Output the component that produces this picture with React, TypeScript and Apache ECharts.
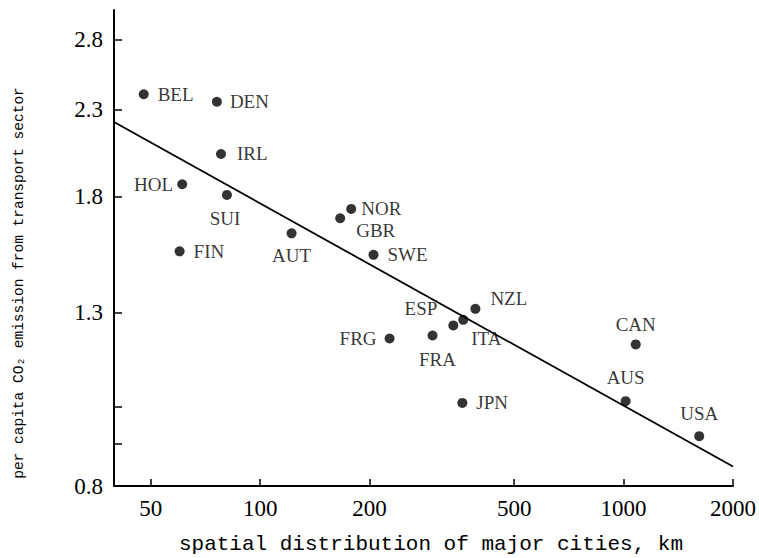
import React, { useEffect, useRef } from "react";
import * as echarts from "echarts";

// ---- data ----
const countries = ["BEL", "DEN", "IRL", "HOL", "SUI", "FIN", "AUT", "NOR", "GBR", "SWE", "NZL", "ITA", "ESP", "FRA", "FRG", "JPN", "CAN", "AUS", "USA"];
const distanceKm = [47.8, 76, 78, 61, 81, 60, 122, 178, 166, 205, 391, 362, 340, 298, 227, 360, 1080, 1013, 1615];
const emission = [2.4, 2.35, 2.03, 1.865, 1.81, 1.545, 1.625, 1.74, 1.695, 1.53, 1.315, 1.275, 1.255, 1.22, 1.21, 1.01, 1.19, 1.015, 0.92];

// regression line end points
const trendDistance = [39.6, 2000];
const trendEmission = [2.22, 0.845];

// axis ticks
const xTickValues = [50, 100, 200, 500, 1000, 2000];
const yLabelValues = [0.8, 1.3, 1.8, 2.3, 2.8];
const yMinorTickValues = [0.9, 1.0];
const xRange = [39.6, 2000];
const yRange = [0.8, 3.04];

const xTitle = "spatial distribution of major cities, km";
const yTitle = "per capita CO\u2082 emission from transport sector";

// label placement (style only)
const labelPlace: Record<string, { position: string; distance: number; offset?: number[] }> = {
  BEL: { position: "right", distance: 9 },
  DEN: { position: "right", distance: 8 },
  IRL: { position: "right", distance: 11 },
  HOL: { position: "left", distance: 4 },
  SUI: { position: "bottom", distance: 9, offset: [-2, 0] },
  FIN: { position: "right", distance: 9 },
  AUT: { position: "bottom", distance: 8 },
  NOR: { position: "right", distance: 5 },
  GBR: { position: "right", distance: 11, offset: [0, 12] },
  SWE: { position: "right", distance: 9 },
  NZL: { position: "right", distance: 10, offset: [0, -10] },
  ITA: { position: "right", distance: 3, offset: [0, 19] },
  ESP: { position: "left", distance: 11, offset: [0, -17] },
  FRA: { position: "bottom", distance: 9, offset: [5, 0] },
  FRG: { position: "left", distance: 8 },
  JPN: { position: "right", distance: 9 },
  CAN: { position: "top", distance: 5 },
  AUS: { position: "top", distance: 9 },
  USA: { position: "top", distance: 8 },
};

const lg = (v: number) => Math.log10(v);
const SERIF = "'Liberation Serif', 'DejaVu Serif', serif";
const MONO = "'Liberation Mono', 'DejaVu Sans Mono', monospace";

export default function App() {
  const ref = useRef<HTMLDivElement>(null);
  useEffect(() => {
    if (!ref.current) return;
    const chart = echarts.init(ref.current, undefined, { renderer: "svg" });
    const scatterData = countries.map((c, i) => {
      const p = labelPlace[c];
      return {
        name: c,
        value: [lg(distanceKm[i]), lg(emission[i])],
        label: { show: true, formatter: c, position: p.position, distance: p.distance, offset: p.offset || [0, 0] },
      };
    });
    chart.setOption({
      animation: false,
      backgroundColor: "#ffffff",
      grid: { left: 114, right: 24, top: 10, bottom: 72 },
      xAxis: {
        type: "value",
        min: lg(xRange[0]),
        max: lg(xRange[1]),
        splitLine: { show: false },
        axisLine: { show: true, onZero: false, lineStyle: { color: "#000", width: 2 } },
        axisTick: { show: true, inside: true, length: 7, customValues: xTickValues.map(lg), lineStyle: { color: "#000", width: 1.5 } },
        axisLabel: {
          customValues: xTickValues.map(lg),
          formatter: (v: number) => String(Math.round(Math.pow(10, v))),
          color: "#000",
          fontFamily: SERIF,
          fontSize: 23,
          margin: 11,
        },
      },
      yAxis: {
        type: "value",
        min: lg(yRange[0]),
        max: lg(yRange[1]),
        splitLine: { show: false },
        axisLine: { show: true, onZero: false, lineStyle: { color: "#000", width: 2 } },
        axisTick: {
          show: true,
          inside: true,
          length: 8,
          customValues: [...yLabelValues, ...yMinorTickValues].map(lg),
          lineStyle: { color: "#000", width: 1.5 },
        },
        axisLabel: {
          customValues: yLabelValues.map(lg),
          formatter: (v: number) => Math.pow(10, v).toFixed(1),
          color: "#000",
          fontFamily: SERIF,
          fontSize: 23,
          margin: 11,
        },
      },
      graphic: [
        {
          type: "text",
          x: 431,
          y: 544,
          style: { text: xTitle, fill: "#000", font: `21px ${MONO}`, textAlign: "center", textVerticalAlign: "middle" },
        },
        {
          type: "text",
          x: 19,
          y: 283,
          rotation: Math.PI / 2,
          style: { text: yTitle, fill: "#000", font: `14.5px ${MONO}`, textAlign: "center", textVerticalAlign: "middle" },
        },
      ],
      series: [
        {
          type: "line",
          data: trendDistance.map((d, i) => [lg(d), lg(trendEmission[i])]),
          showSymbol: false,
          symbol: "none",
          lineStyle: { color: "#000", width: 1.8 },
          silent: true,
          z: 1,
        },
        {
          type: "scatter",
          data: scatterData,
          symbol: "circle",
          symbolSize: 10,
          itemStyle: { color: "#000" },
          label: { show: true, color: "#000", fontFamily: SERIF, fontSize: 19 },
          z: 2,
        },
      ],
    });
    return () => chart.dispose();
  }, []);
  return <div ref={ref} style={{ position: "fixed", left: 0, top: 0, width: 759, height: 558 }} />;
}
